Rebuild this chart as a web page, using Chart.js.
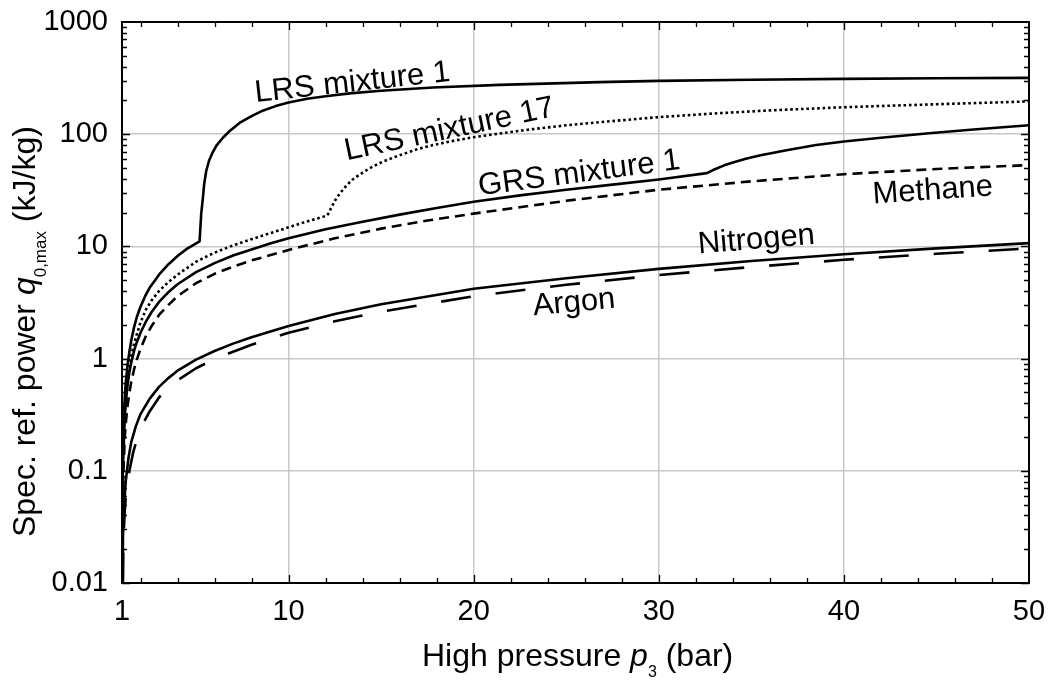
<!DOCTYPE html>
<html>
<head>
<meta charset="utf-8">
<script src="https://cdn.jsdelivr.net/npm/chart.js@4.4.1/dist/chart.umd.min.js"></script>
<style>
  html, body { margin: 0; padding: 0; background: #fff; }
  #c { display: block; }
</style>
</head>
<body>
<canvas id="c" width="1058" height="682"></canvas>
<script>
// ---------- data ----------
const xTickValues = [1, 10, 20, 30, 40, 50];
const yTickValues = [0.01, 0.1, 1, 10, 100, 1000];

const pLRS1 = [1.002, 1.01, 1.02, 1.04, 1.07, 1.1, 1.15, 1.2, 1.3, 1.4, 1.5, 1.65, 1.8, 2, 2.25, 2.5, 2.75, 3, 3.5, 4, 4.5, 5.19,
               5.28, 5.37, 5.44, 5.55, 5.7, 5.9, 6.1, 6.45, 6.8, 7.35, 8, 8.6, 9.3, 10, 11, 12, 13.3, 15, 17.8, 21.4, 26.8, 30, 35, 40, 45, 50];
const qLRS1 = [0.01, 0.035, 0.065, 0.12, 0.2, 0.3, 0.45, 0.6, 0.88, 1.15, 1.45, 1.9, 2.35, 2.9, 3.6, 4.3, 4.9, 5.6, 6.9, 8.2, 9.5, 11.1,
               19.6, 27, 36, 47, 58, 69, 79, 93, 106, 126, 145, 162, 178, 192, 207, 218, 231, 244, 261, 275, 291, 299, 306, 311, 315, 318];

const pLRS17 = [1.003, 1.015, 1.03, 1.05, 1.08, 1.12, 1.18, 1.25, 1.35, 1.5, 1.65, 1.8, 2, 2.3, 2.6, 3, 3.5, 4, 5, 6, 7, 8, 9, 10, 11, 12.1,
                12.3, 12.5, 12.76, 13.1, 13.46, 14, 14.5, 15.1, 16, 17, 17.8, 19, 20, 21.5, 23.2, 25, 26.8, 30, 33, 36, 40, 45, 50];
const qLRS17 = [0.01, 0.04, 0.08, 0.12, 0.19, 0.28, 0.4, 0.55, 0.77, 1.05, 1.35, 1.65, 2.1, 2.75, 3.3, 4.0, 4.8, 5.6, 7.3, 8.8, 10.2, 11.6, 13.1, 14.8, 16.7, 18.9,
                22, 25.5, 29.5, 34.5, 39.5, 45.5, 51, 57, 65, 74, 80, 88, 94, 102, 111, 120, 128, 142, 153, 163, 174, 185, 196];

const pGRS1 = [1.005, 1.02, 1.04, 1.07, 1.1, 1.15, 1.2, 1.3, 1.4, 1.5, 1.65, 1.8, 2, 2.3, 2.6, 3, 3.5, 4, 5, 6, 7, 8, 9, 10, 12, 14, 16, 18, 20, 22.5, 25, 27.5, 30, 32.6,
               33, 33.5, 34, 34.7, 35.5, 36.9, 38.5, 40, 42, 44.6, 47, 50];
const qGRS1 = [0.01, 0.04, 0.08, 0.14, 0.2, 0.3, 0.4, 0.58, 0.76, 0.92, 1.17, 1.4, 1.7, 2.15, 2.6, 3.2, 3.9, 4.6, 5.9, 7.1, 8.3, 9.4, 10.6, 11.8, 14.2, 16.6, 19.2, 22, 25, 28.5, 32, 35.5, 39.5, 45,
               48.5, 52.5, 56, 60.5, 65, 72, 80, 86, 93, 102, 110, 120];

const pMethane = [1.01, 1.03, 1.06, 1.1, 1.15, 1.2, 1.3, 1.4, 1.5, 1.65, 1.8, 2, 2.3, 2.6, 3, 3.5, 4, 5, 6, 7, 8, 10, 12.5, 15, 17.5, 20, 25, 30, 35, 40, 45, 50];
const qMethane = [0.01, 0.04, 0.08, 0.13, 0.2, 0.26, 0.38, 0.5, 0.62, 0.8, 0.98, 1.22, 1.6, 1.95, 2.45, 3.0, 3.6, 4.7, 5.7, 6.6, 7.5, 9.3, 11.8, 14.4, 17, 19.6, 25.5, 32, 38, 44, 49, 53];

const pNitrogen = [1.02, 1.05, 1.1, 1.2, 1.35, 1.5, 1.75, 2, 2.5, 3, 3.5, 4, 5, 6, 7, 8, 10, 12.5, 15, 20, 25, 30, 35, 40, 45, 50];
const qNitrogen = [0.01, 0.025, 0.045, 0.08, 0.13, 0.18, 0.25, 0.32, 0.44, 0.56, 0.67, 0.78, 0.98, 1.17, 1.36, 1.55, 1.95, 2.5, 3.05, 4.2, 5.2, 6.3, 7.4, 8.5, 9.6, 10.7];

const pArgon = [1.04, 1.08, 1.15, 1.25, 1.4, 1.6, 1.8, 2, 2.5, 3, 3.5, 4, 5, 6, 7, 8, 10, 12.5, 15, 20, 25, 30, 35, 40, 45, 50];
const qArgon = [0.01, 0.025, 0.045, 0.07, 0.1, 0.145, 0.19, 0.24, 0.34, 0.45, 0.55, 0.64, 0.82, 0.99, 1.15, 1.33, 1.7, 2.15, 2.62, 3.6, 4.55, 5.55, 6.55, 7.6, 8.6, 9.6];

// curve labels: text, anchor (pressure, power) of baseline start, rotation in degrees
const labelTexts  = ['LRS mixture 1', 'LRS mixture 17', 'GRS mixture 1', 'Methane', 'Nitrogen', 'Argon'];
const labelP      = [8.22, 13.14, 20.32, 41.58, 32.16, 23.24];
const labelQ      = [193.6, 58.5, 28.5, 24.1, 8.63, 2.43];
const labelAngles = [-6.2, -12.0, -7.5, -3.9, -4.8, -5.3];

// ---------- helpers ----------
const FONT = '"Liberation Sans", Arial, Helvetica, sans-serif';
const toXY = (xs, ys) => xs.map((x, i) => ({ x: x, y: ys[i] }));

function ds(xs, ys, dash) {
  return {
    data: toXY(xs, ys),
    borderColor: '#000',
    borderWidth: 2.6,
    borderDash: dash,
    borderCapStyle: 'butt',
    borderJoinStyle: 'round',
    pointRadius: 0,
    fill: false,
    tension: 0
  };
}

// frame + inward tick marks on all four sides
const framePlugin = {
  id: 'frame',
  afterDatasetsDraw(chart) {
    const { ctx, chartArea: a, scales: { x, y } } = chart;
    ctx.save();
    ctx.strokeStyle = '#000';
    ctx.lineWidth = 1.3;
    ctx.beginPath();
    for (let v = 2; v < 50; v += 2) {
      const len = v % 10 === 0 ? 8 : 5;
      const px = Math.round(x.getPixelForValue(v)) + 0.5;
      ctx.moveTo(px, a.bottom); ctx.lineTo(px, a.bottom - len);
      ctx.moveTo(px, a.top); ctx.lineTo(px, a.top + len);
    }
    for (let e = -2; e < 3; e++) {
      for (let m = 1; m <= 9; m++) {
        const v = m * Math.pow(10, e);
        const len = m === 1 ? 8 : 5;
        const py = Math.round(y.getPixelForValue(v)) + 0.5;
        ctx.moveTo(a.left, py); ctx.lineTo(a.left + len, py);
        ctx.moveTo(a.right, py); ctx.lineTo(a.right - len, py);
      }
    }
    ctx.stroke();
    ctx.lineWidth = 2;
    ctx.strokeRect(a.left, a.top, a.right - a.left, a.bottom - a.top);
    ctx.restore();
  }
};

// rotated labels along the curves
const labelPlugin = {
  id: 'curveLabels',
  afterDatasetsDraw(chart) {
    const { ctx, scales: { x, y } } = chart;
    ctx.save();
    ctx.fillStyle = '#000';
    ctx.font = '31px ' + FONT;
    ctx.textAlign = 'left';
    ctx.textBaseline = 'alphabetic';
    labelTexts.forEach((t, i) => {
      ctx.save();
      ctx.translate(x.getPixelForValue(labelP[i]), y.getPixelForValue(labelQ[i]));
      ctx.rotate(labelAngles[i] * Math.PI / 180);
      ctx.fillText(t, 0, 0);
      ctx.restore();
    });
    ctx.restore();
  }
};

function drawRuns(ctx, runs) {
  let cx = 0;
  runs.forEach(r => {
    ctx.font = r.font;
    ctx.fillText(r.text, cx, r.dy || 0);
    cx += ctx.measureText(r.text).width;
  });
}

// axis titles with italic symbols and subscripts
const titlePlugin = {
  id: 'axisTitles',
  afterDraw(chart) {
    const { ctx } = chart;
    ctx.save();
    ctx.fillStyle = '#000';
    ctx.textBaseline = 'alphabetic';
    ctx.textAlign = 'left';
    ctx.save();
    ctx.translate(422, 666);
    drawRuns(ctx, [
      { text: 'High pressure ', font: '32px ' + FONT },
      { text: 'p', font: 'italic 32px ' + FONT },
      { text: '3', font: '16px ' + FONT, dy: 11 },
      { text: ' (bar)', font: '32px ' + FONT }
    ]);
    ctx.restore();
    ctx.save();
    ctx.translate(35, 537);
    ctx.rotate(-Math.PI / 2);
    drawRuns(ctx, [
      { text: 'Spec. ref. power ', font: '32px ' + FONT },
      { text: 'q', font: 'italic 32px ' + FONT },
      { text: '0,max', font: '17px ' + FONT, dy: 11 },
      { text: ' (kJ/kg)', font: '32px ' + FONT }
    ]);
    ctx.restore();
    ctx.restore();
  }
};

Chart.defaults.font.family = FONT;
Chart.defaults.color = '#000';

new Chart(document.getElementById('c').getContext('2d'), {
  type: 'line',
  data: {
    datasets: [
      ds(pLRS1, qLRS1, []),
      ds(pLRS17, qLRS17, [2.6, 2.8]),
      ds(pGRS1, qGRS1, []),
      ds(pMethane, qMethane, [10, 6]),
      ds(pNitrogen, qNitrogen, []),
      ds(pArgon, qArgon, [30, 25])
    ]
  },
  options: {
    responsive: false,
    animation: false,
    devicePixelRatio: 1,
    layout: { padding: { top: 22, right: 29, left: 0, bottom: 0 } },
    plugins: { legend: { display: false }, tooltip: { enabled: false } },
    scales: {
      x: {
        type: 'linear', min: 1, max: 50,
        afterBuildTicks: s => { s.ticks = xTickValues.map(v => ({ value: v })); },
        afterFit: s => { s.height = 99; s.paddingLeft = 0; s.paddingRight = 0; },
        grid: { color: '#c8c8c8', lineWidth: 1.5, drawTicks: false },
        border: { display: false },
        ticks: { font: { size: 29 }, color: '#000', padding: 12, maxRotation: 0, autoSkip: false }
      },
      y: {
        type: 'logarithmic', min: 0.01, max: 1000,
        afterBuildTicks: s => { s.ticks = yTickValues.map(v => ({ value: v })); },
        afterFit: s => { s.width = 122; s.paddingTop = 0; s.paddingBottom = 0; },
        grid: { color: '#c8c8c8', lineWidth: 1.5, drawTicks: false },
        border: { display: false },
        ticks: { font: { size: 29 }, color: '#000', padding: 14, autoSkip: false,
                 callback: v => String(v) }
      }
    }
  },
  plugins: [framePlugin, labelPlugin, titlePlugin]
});
</script>
</body>
</html>
